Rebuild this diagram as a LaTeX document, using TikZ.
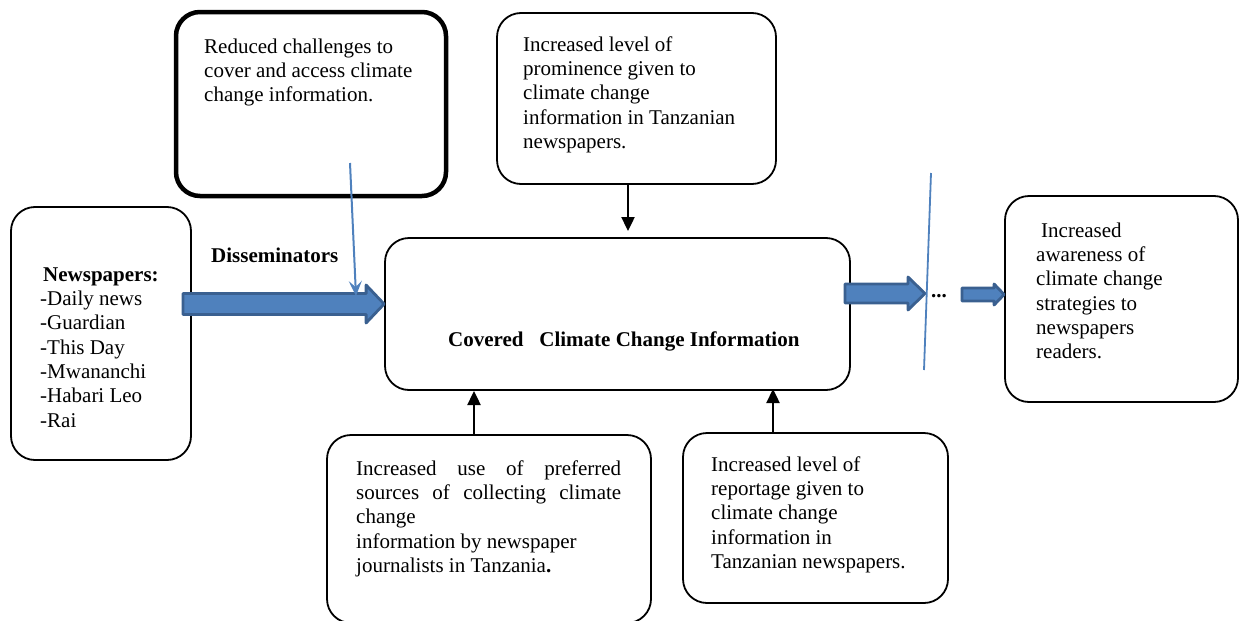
\documentclass[tikz,border=0pt]{standalone}
\usepackage{fontspec}
\setmainfont{Liberation Serif}
\usetikzlibrary{arrows.meta,calc}
\definecolor{arrowfill}{HTML}{4F81BD}
\definecolor{arrowborder}{HTML}{3A6090}
\newcommand{\fs}{\rule{0pt}{15pt}}
\newcommand{\blockarrow}[5]{%
  \draw[blk] let \p1=(#1), \p2=(#2) in
    (\x1,\y1+#3pt) -- (\x2-#5pt,\y1+#3pt) -- (\x2-#5pt,\y1+#4pt) -- (\x2,\y1)
    -- (\x2-#5pt,\y1-#4pt) -- (\x2-#5pt,\y1-#3pt) -- (\x1,\y1-#3pt) -- cycle;}
\begin{document}
\begin{tikzpicture}[x=1pt,y=-1pt,
  box/.style={draw, rounded corners=24pt, line width=1.8pt, inner sep=0pt},
  txt/.style={anchor=north west, inner sep=0pt, align=left, font=\fontsize{21}{24.3}\selectfont},
  blk/.style={draw=arrowborder, fill=arrowfill, line width=2.8pt, line join=round},
  blackarr/.style={line width=2.4pt, -{Triangle[length=14pt,width=13pt]}},
  thinarr/.style={draw=arrowfill, line width=2pt, -{Stealth[length=15pt,width=13pt,inset=6pt]}}]
\useasboundingbox (0,0) rectangle (1242,621);

% boxes
\node[box, minimum width=180, minimum height=253] (news) at (101,333.5) {};
\node[box, line width=4.5pt, minimum width=270, minimum height=184] (reduce) at (311,104) {};
\node[box, minimum width=279, minimum height=171] (prom) at (636.5,98.5) {};
\node[box, minimum width=465, minimum height=152] (cov) at (617.5,314) {};
\node[box, minimum width=233, minimum height=206] (aware) at (1121.5,299) {};
\node[box, minimum width=324, minimum height=188] (use) at (489,529) {};
\node[box, minimum width=265, minimum height=170] (rep) at (815.5,518) {};

% texts
\node[txt] (reduceT) at (204,38) {\fs Reduced challenges to\\cover and access climate\\change information.};
\node[txt] (promT) at (523,36) {\fs Increased level of\\prominence given to\\climate change\\information in Tanzanian\\newspapers.};
\node[txt] (newsT) at (40,266) {\fs\hspace{3pt}\textbf{Newspapers:}\\-Daily news\\-Guardian\\-This Day\\-Mwananchi\\-Habari Leo\\-Rai};
\node[txt] (dissT) at (211,247) {\fs\textbf{Disseminators}};
\node[txt, anchor=west] (covT) at (448,341) {\textbf{Covered\ \ \ Climate Change Information}};
\node[txt] (awareT) at (1036,222) {\fs\hspace{5pt}Increased\\awareness of\\climate change\\strategies to\\newspapers\\readers.};
\node[txt] (useT) at (356,460) {\fs\hbox to 265pt{Increased\hfill use\hfill of\hfill preferred}\\
  \hbox to 265pt{sources\hfill of\hfill collecting\hfill climate}\\change\\information by newspaper\\journalists in Tanzania\textbf{.}};
\node[txt] (repT) at (711,456) {\fs Increased level of\\reportage given to\\climate change\\information in\\Tanzanian newspapers.};
\node[txt, anchor=west, font=\fontsize{21}{24}\selectfont\bfseries] (dots) at (931,296) {...};

% coordinates
\coordinate (a1s) at (183,304);
\coordinate (a2s) at (845,293.5);
\coordinate (a2e) at (925,293.5);
\coordinate (a3s) at (962,294.5);
\coordinate (t1) at (350,163);
\coordinate (t2) at (356,296);
\coordinate (k1) at (628,0);
\coordinate (k1e) at (628,231);
\coordinate (k2) at (474,0);
\coordinate (k2e) at (474,391);
\coordinate (k3) at (773,0);
\coordinate (k3e) at (773,389);
\coordinate (l1) at (931,173);
\coordinate (l2) at (924,370);

% block arrows
\blockarrow{a1s}{cov.west |- a1s}{10.5}{19}{18}
\blockarrow{a2s}{a2e}{9.5}{16.5}{17}
\blockarrow{a3s}{aware.west |- a3s}{6.5}{10.5}{10}

% thin lines / arrows
\draw[thinarr] (t1) -- (t2);
\draw[arrowfill, line width=1.8pt] (l1) -- (l2);
\draw[blackarr] (prom.south -| k1) -- (k1e);
\draw[blackarr] (use.north -| k2) -- (k2e);
\draw[blackarr] (rep.north -| k3) -- (k3e);
\end{tikzpicture}
\end{document}
